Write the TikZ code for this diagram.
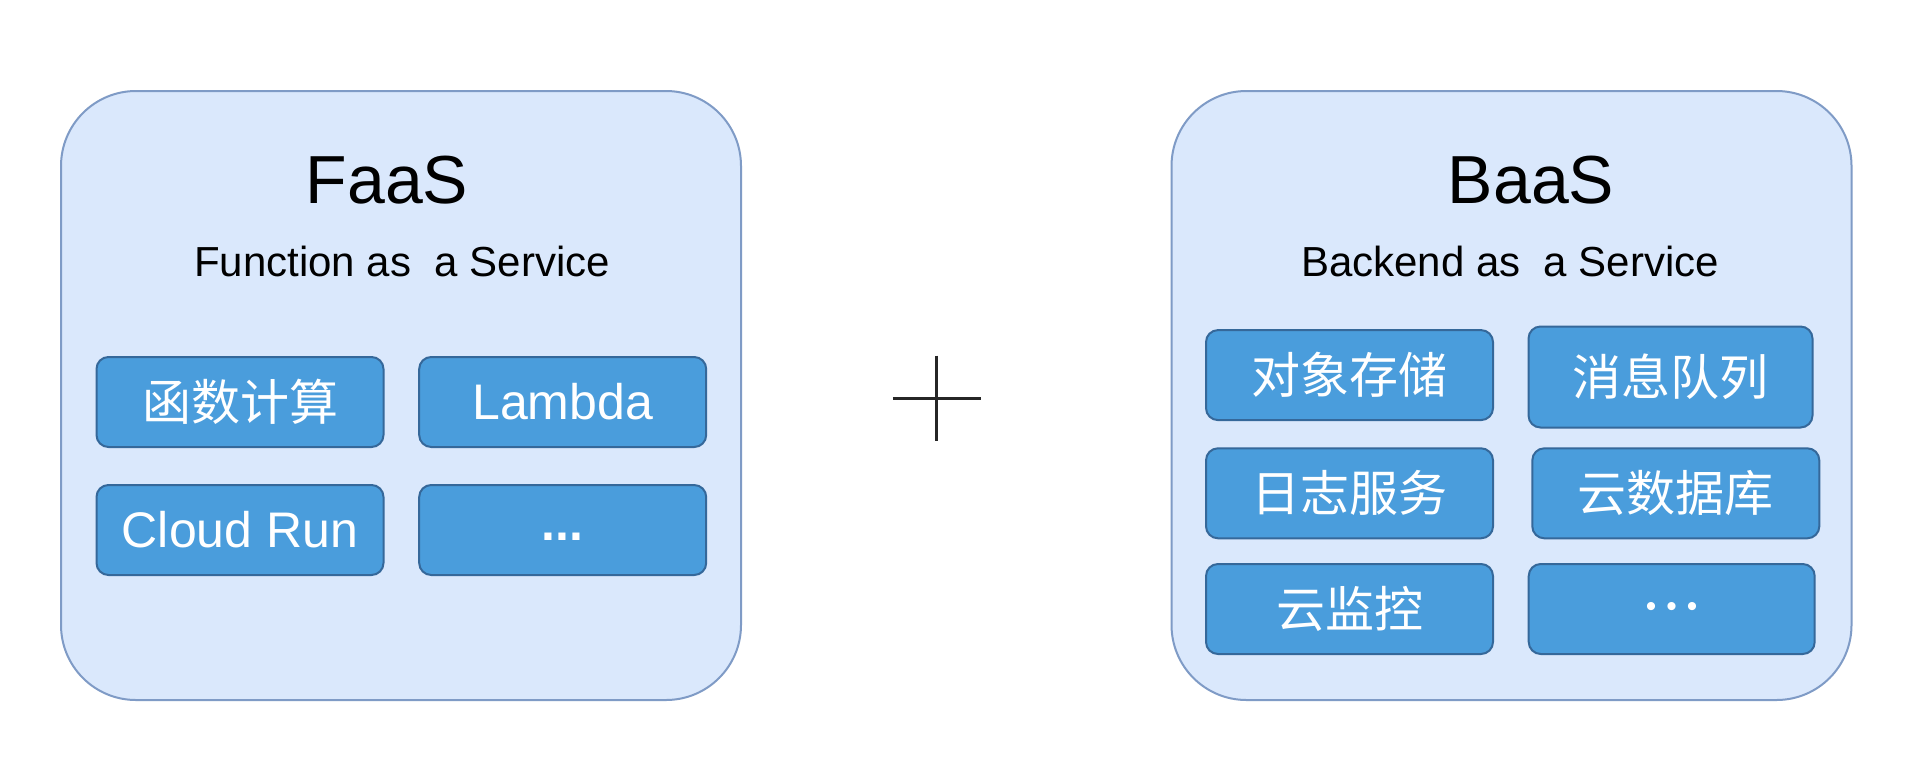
\documentclass[tikz,border=0pt]{standalone}
\usepackage{fontspec}
\setmainfont{Liberation Sans}
\newfontfamily\cjk{Noto Sans CJK SC}
\definecolor{outerfill}{HTML}{DAE8FC}
\definecolor{outerline}{HTML}{7F9BC6}
\definecolor{itemfill}{HTML}{4A9DDC}
\definecolor{itemline}{HTML}{35689A}
\begin{document}
\begin{tikzpicture}[x=1pt,y=-1pt,
  outerbox/.style={draw=outerline, fill=outerfill, line width=2pt, rounded corners=75pt, inner sep=0pt},
  itembox/.style={draw=itemline, fill=itemfill, line width=2pt, rounded corners=12pt, text=white, inner sep=0pt,
    minimum width=287pt, minimum height=90pt, font=\fontsize{50}{60}\selectfont},
  cjkbox/.style={itembox, font=\cjk\fontsize{49}{60}\selectfont},
  titletext/.style={anchor=base, inner sep=0pt, font=\fontsize{68}{80}\selectfont},
  subtext/.style={anchor=base, inner sep=0pt, font=\fontsize{42}{50}\selectfont},
  plusline/.style={line width=3pt, draw=black!85}
]
\useasboundingbox[fill=white] (0,0) rectangle (1910,756);

% FaaS
\node[outerbox, minimum width=680pt, minimum height=609pt] (faas) at (401,395.5) {};
\node[titletext] (faastitle) at (387,203) {FaaS};
\node[subtext] (faassub) at (402,276) {Function as\ \ a Service};
\node[cjkbox] (fc) at (240,402) {函数计算};
\node[itembox] (lambda) at (562.7,402) {Lambda};
\node[itembox] (cloudrun) at (240,530) {Cloud Run};
\node[itembox] (fmore) at (562.7,530) {\raisebox{-10pt}[0pt][0pt]{\textbf{...}}};

% plus
\coordinate (pl) at (892.8,398.3);
\coordinate (pr) at (980.5,398.3);
\coordinate (pt) at (936.6,355.7);
\coordinate (pb) at (936.6,441);
\draw[plusline] (pl) -- (pr);
\draw[plusline] (pt) -- (pb);

% BaaS
\node[outerbox, minimum width=680pt, minimum height=609pt] (baas) at (1511.5,395.5) {};
\node[titletext] (baastitle) at (1531,203) {BaaS};
\node[subtext] (baassub) at (1510,276) {Backend as\ \ a Service};
\node[cjkbox] (oss) at (1349.5,375.1) {对象存储};
\node[cjkbox, minimum width=284pt, minimum height=101pt] (mq) at (1670.5,377) {消息队列};
\node[cjkbox] (log) at (1349.5,493.3) {日志服务};
\node[cjkbox] (db) at (1675.8,493.3) {云数据库};
\node[cjkbox] (mon) at (1349.5,609) {云监控};
\node[itembox, minimum width=286pt, font=\fontsize{30}{36}\selectfont] (bmore) at (1671.7,609) {•\,\,•\,\,•};
\end{tikzpicture}
\end{document}
